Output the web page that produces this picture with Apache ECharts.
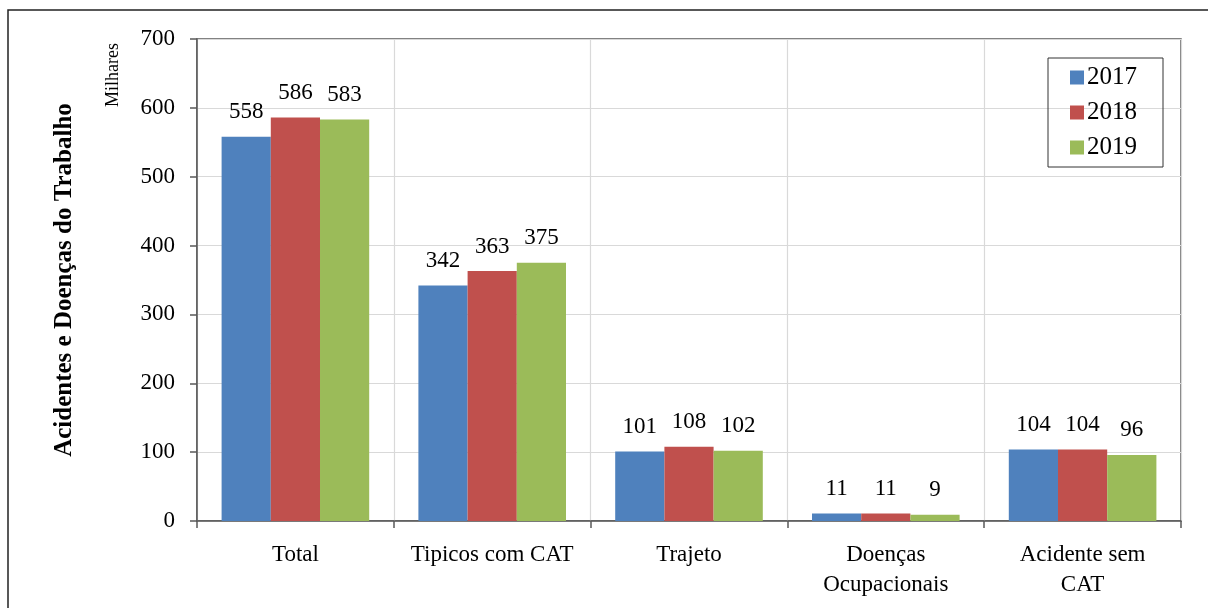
<!DOCTYPE html>
<html>
<head>
<meta charset="utf-8">
<script src="https://cdn.jsdelivr.net/npm/echarts@6/dist/echarts.min.js"></script>
<style>
html,body{margin:0;padding:0;background:#fff;}
#chart{width:1208px;height:608px;}
</style>
</head>
<body>
<div id="chart"></div>
<script>
const categories = ['Total', 'Tipicos com CAT', 'Trajeto', 'Doenças\nOcupacionais', 'Acidente sem\nCAT'];
const seriesNames = ['2017', '2018', '2019'];
const values2017 = [558, 342, 101, 11, 104];
const values2018 = [586, 363, 108, 11, 104];
const values2019 = [583, 375, 102, 9, 96];
const colors = ['#4F81BD', '#C0504D', '#9BBB59'];
const font = 'Liberation Serif, Times New Roman, serif';

const chart = echarts.init(document.getElementById('chart'));
const allValues = [values2017, values2018, values2019];
chart.setOption({
  animation: false,
  textStyle: { fontFamily: font, color: '#000' },
  grid: { left: 197, right: 27, top: 39, bottom: 87, show: true, borderColor: '#595959', borderWidth: 1.5, backgroundColor: 'transparent' },
  legend: {
    orient: 'vertical', left: 1048, top: 58,
    data: seriesNames,
    icon: 'rect', itemWidth: 14, itemHeight: 14, itemGap: 10,
    padding: [7, 26, 7, 22],
    borderColor: '#333', borderWidth: 1,
    textStyle: { fontFamily: font, fontSize: 25, color: '#000', padding: [0, 0, 0, -2] }
  },
  xAxis: {
    type: 'category', data: categories,
    axisLine: { lineStyle: { color: '#595959', width: 1.5 } },
    axisTick: { show: true, interval: 0, length: 7, lineStyle: { color: '#595959', width: 1.5 } },
    splitLine: { show: true, interval: 0, lineStyle: { color: '#d9d9d9', width: 1.2 } },
    axisLabel: { interval: 0, fontFamily: font, fontSize: 23, color: '#000', margin: 19, lineHeight: 30 }
  },
  yAxis: {
    type: 'value', min: 0, max: 700, interval: 100,
    name: 'Acidentes e Doenças do Trabalho', nameLocation: 'middle', nameRotate: 90, nameGap: 120,
    nameTextStyle: { fontFamily: font, fontSize: 25, fontWeight: 'bold', color: '#000' },
    axisLine: { show: true, lineStyle: { color: '#595959', width: 1.5 } },
    axisTick: { show: true, length: 7, lineStyle: { color: '#595959', width: 1.5 } },
    splitLine: { show: true, lineStyle: { color: '#d9d9d9', width: 1.2 } },
    axisLabel: { fontFamily: font, fontSize: 23, color: '#000', margin: 22 }
  },
  series: seriesNames.map((n, i) => ({
    name: n, type: 'bar', data: allValues[i],
    barGap: '0%', barCategoryGap: '25%',
    itemStyle: { color: colors[i] },
    label: { show: true, position: 'top', distance: 13, fontFamily: font, fontSize: 23, color: '#000' }
  })),
  graphic: [
    { type: 'rect', shape: { x: 8, y: 10, width: 1300, height: 700 }, style: { fill: 'none', stroke: '#222', lineWidth: 1.5 }, silent: true, z: -1 },
    { type: 'text', x: 113, y: 75, rotation: Math.PI / 2, style: { text: 'Milhares', font: '18px ' + font, fill: '#000', textAlign: 'center', textVerticalAlign: 'middle' } }
  ]
});
</script>
</body>
</html>
